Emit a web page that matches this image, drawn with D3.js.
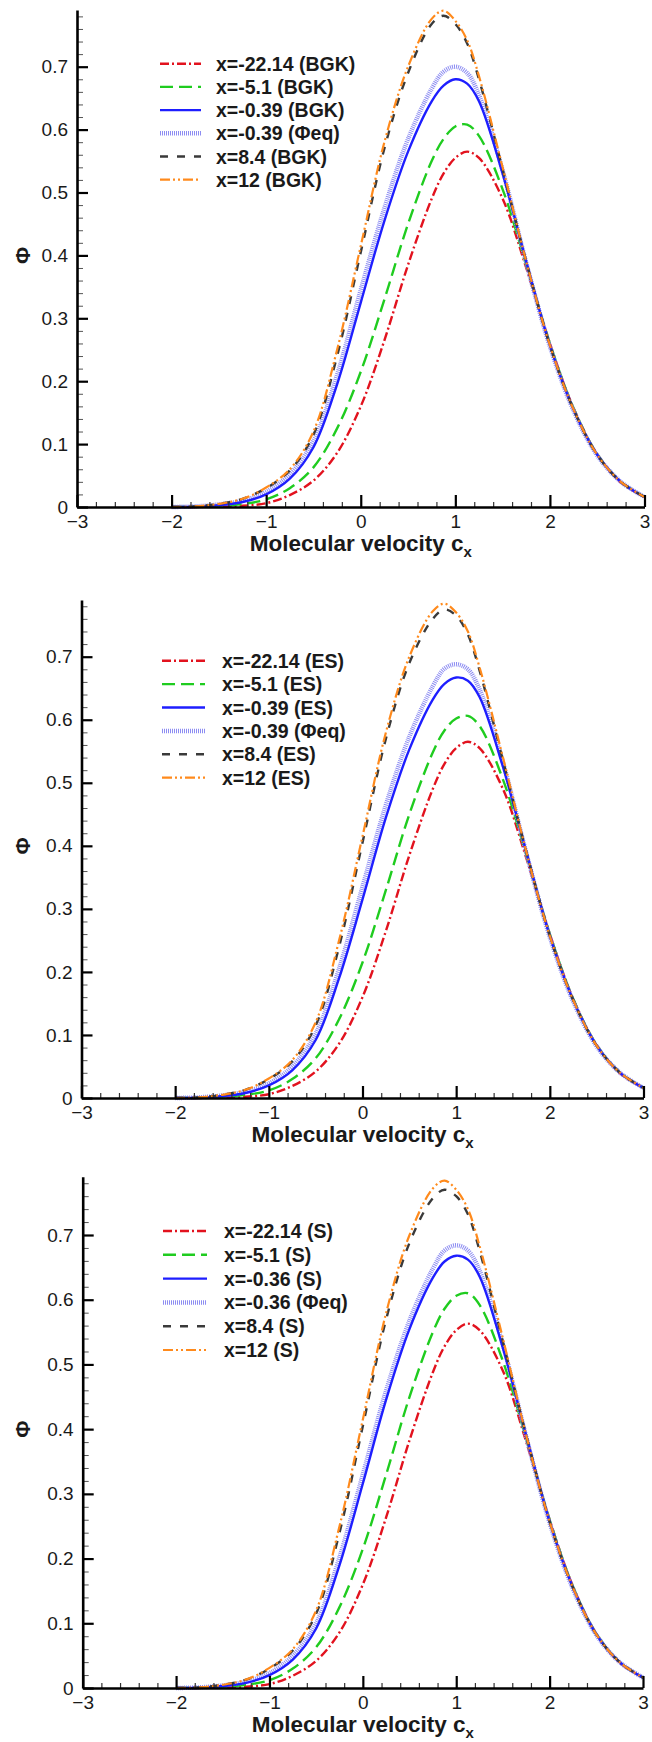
<!DOCTYPE html>
<html>
<head>
<meta charset="utf-8">
<script src="https://cdn.jsdelivr.net/npm/d3@7"></script>
<style>
  body { margin: 0; background: #fff; }
  svg { display: block; }
  text { font-family: "Liberation Sans", Arial, sans-serif; fill: #1a1a1a; }
</style>
</head>
<body>
<svg id="chart" width="652" height="1742"></svg>
<script>
// molecular velocity grid shared by every curve
const cx = [-3, -2.5, -2, -1.75, -1.5, -1.25, -1, -0.75, -0.5, -0.25, 0, 0.25, 0.5, 0.75, 0.875, 1, 1.125, 1.25, 1.5, 1.75, 2, 2.25, 2.5, 2.75, 3];

// panel 1 : BGK
const red1    = [0,0,0,0.0001,0.0004,0.002,0.006,0.019,0.042,0.086,0.16,0.265,0.385,0.49,0.53,0.555,0.565,0.555,0.49,0.38,0.26,0.157,0.084,0.039,0.016];
const green1  = [0,0,0,0.001,0.002,0.005,0.012,0.03,0.063,0.125,0.215,0.33,0.45,0.55,0.585,0.605,0.608,0.59,0.505,0.385,0.26,0.157,0.084,0.04,0.016];
const blue1   = [0,0,0,0.0005,0.003,0.008,0.02,0.045,0.095,0.195,0.325,0.455,0.565,0.645,0.67,0.68,0.673,0.645,0.53,0.39,0.257,0.155,0.083,0.04,0.016];
const eq1     = [0,0,0,0.001,0.004,0.01,0.024,0.052,0.105,0.21,0.345,0.475,0.585,0.665,0.692,0.70,0.69,0.655,0.535,0.388,0.255,0.153,0.082,0.04,0.016];
const black1  = [0,0,0,0.001,0.005,0.013,0.03,0.058,0.115,0.24,0.405,0.57,0.69,0.768,0.781,0.768,0.737,0.68,0.537,0.39,0.257,0.155,0.083,0.04,0.016];
const orange1 = [0,0,0,0.001,0.005,0.013,0.031,0.06,0.12,0.25,0.415,0.58,0.70,0.776,0.789,0.773,0.742,0.685,0.54,0.39,0.257,0.155,0.083,0.04,0.016];

// panel 2 : ES
const red2    = [0,0,0,0.0001,0.0004,0.002,0.006,0.019,0.042,0.086,0.16,0.265,0.385,0.49,0.53,0.555,0.565,0.555,0.49,0.38,0.26,0.157,0.084,0.039,0.016];
const green2  = [0,0,0,0.001,0.002,0.005,0.012,0.03,0.063,0.125,0.215,0.33,0.45,0.548,0.583,0.602,0.606,0.59,0.505,0.385,0.26,0.157,0.084,0.04,0.016];
const blue2   = [0,0,0,0.0005,0.003,0.008,0.02,0.044,0.092,0.19,0.315,0.445,0.553,0.632,0.657,0.667,0.662,0.636,0.525,0.39,0.257,0.155,0.083,0.04,0.016];
const eq2     = [0,0,0,0.001,0.004,0.01,0.023,0.05,0.102,0.205,0.335,0.465,0.573,0.653,0.681,0.688,0.68,0.648,0.532,0.388,0.255,0.153,0.082,0.04,0.016];
const black2  = [0,0,0,0.001,0.005,0.013,0.03,0.058,0.115,0.24,0.405,0.57,0.69,0.76,0.775,0.765,0.735,0.678,0.535,0.39,0.257,0.155,0.083,0.04,0.016];
const orange2 = [0,0,0,0.001,0.005,0.013,0.031,0.06,0.12,0.25,0.415,0.58,0.70,0.772,0.784,0.77,0.74,0.683,0.54,0.39,0.257,0.155,0.083,0.04,0.016];

// panel 3 : Shakhov
const red3    = [0,0,0,0.0001,0.0004,0.002,0.006,0.019,0.042,0.086,0.16,0.264,0.383,0.488,0.528,0.553,0.563,0.553,0.49,0.38,0.26,0.157,0.084,0.039,0.016];
const green3  = [0,0,0,0.001,0.002,0.005,0.012,0.03,0.063,0.125,0.215,0.33,0.45,0.55,0.586,0.606,0.61,0.592,0.505,0.385,0.26,0.157,0.084,0.04,0.016];
const blue3   = [0,0,0,0.0005,0.003,0.008,0.02,0.044,0.092,0.19,0.316,0.446,0.555,0.634,0.659,0.668,0.662,0.636,0.525,0.39,0.257,0.155,0.083,0.04,0.016];
const eq3     = [0,0,0,0.001,0.004,0.01,0.023,0.05,0.1,0.202,0.33,0.46,0.568,0.648,0.676,0.684,0.676,0.645,0.53,0.388,0.255,0.153,0.082,0.04,0.016];
const black3  = [0,0,0,0.001,0.005,0.013,0.03,0.058,0.115,0.24,0.405,0.57,0.688,0.757,0.77,0.76,0.732,0.676,0.535,0.39,0.257,0.155,0.083,0.04,0.016];
const orange3 = [0,0,0,0.001,0.005,0.013,0.031,0.06,0.12,0.25,0.415,0.58,0.70,0.772,0.784,0.77,0.74,0.683,0.54,0.39,0.257,0.155,0.083,0.04,0.016];

const labels1 = ["x=-22.14 (BGK)", "x=-5.1 (BGK)", "x=-0.39 (BGK)", "x=-0.39 (\u03A6eq)", "x=8.4 (BGK)", "x=12 (BGK)"];
const labels2 = ["x=-22.14 (ES)", "x=-5.1 (ES)", "x=-0.39 (ES)", "x=-0.39 (\u03A6eq)", "x=8.4 (ES)", "x=12 (ES)"];
const labels3 = ["x=-22.14 (S)", "x=-5.1 (S)", "x=-0.36 (S)", "x=-0.36 (\u03A6eq)", "x=8.4 (S)", "x=12 (S)"];

const xTicks = [-3, -2, -1, 0, 1, 2, 3];
const yTicks = [0, 0.1, 0.2, 0.3, 0.4, 0.5, 0.6, 0.7];

// line styles in legend order
const styles = [
    { color: "#e2121e", dash: "9,3,2,3", width: 2.4 },
    { color: "#1fcc1f", dash: "13,6", width: 2.4 },
    { color: "#1e1eff", dash: null, width: 2.4 },
    { color: "#8d8df2", dash: "1,1", width: 4.5 },
    { color: "#3a3a3a", dash: "8,9", width: 2.4 },
    { color: "#ff8a1c", dash: "10,3,2,3,2,3", width: 2.2 }
];
// draw order (Phi_eq under the solid blue, orange on top)
const drawOrder = [0, 1, 3, 2, 4, 5];

const panels = [
    { series: [red1, green1, blue1, eq1, black1, orange1], labels: labels1,
      left: 77, right: 644.5, y0: 507, y07: 66.7, legTop: 63.7, legStep: 23.2, sx1: 160, sx2: 201, tx: 216 },
    { series: [red2, green2, blue2, eq2, black2, orange2], labels: labels2,
      left: 81.5, right: 643.5, y0: 1098, y07: 656.7, legTop: 660.7, legStep: 23.4, sx1: 162, sx2: 205, tx: 222 },
    { series: [red3, green3, blue3, eq3, black3, orange3], labels: labels3,
      left: 82.7, right: 643, y0: 1688, y07: 1235, legTop: 1231, legStep: 23.8, sx1: 163, sx2: 207, tx: 224 }
];

const svg = d3.select("#chart");

panels.forEach(function (p) {
    var x = d3.scaleLinear().domain([-3, 3]).range([p.left, p.right]);
    // position of 0.79 (top of the axis) from the 0 and 0.7 tick positions
    var yTop = p.y0 - (p.y0 - p.y07) * 0.79 / 0.7;
    var y = d3.scaleLinear().domain([0, 0.79]).range([p.y0, yTop]);

    var g = svg.append("g");

    var line = d3.line()
        .defined(function (d, i) { return cx[i] >= -2; })
        .x(function (d, i) { return x(cx[i]); })
        .y(function (d) { return y(Math.max(0, d)); })
        .curve(d3.curveCatmullRom.alpha(0.5));

    // curves
    drawOrder.forEach(function (k) {
        g.append("path")
            .datum(p.series[k])
            .attr("fill", "none")
            .attr("stroke", styles[k].color)
            .attr("stroke-width", styles[k].width)
            .attr("stroke-dasharray", styles[k].dash)
            .attr("d", line);
    });

    // minor ticks
    var yMinor = d3.range(0, 0.7901, 0.02).filter(function (v) { return Math.abs(v * 10 - Math.round(v * 10)) > 1e-6; });
    var xMinor = d3.range(-3, 3.0001, 0.2).filter(function (v) { return Math.abs(v - Math.round(v)) > 1e-6; });

    g.append("g")
        .attr("transform", "translate(" + p.left + ",0)")
        .call(d3.axisLeft(y).tickValues(yMinor).tickSize(-6).tickSizeOuter(0).tickFormat(""))
        .call(function (a) { a.select(".domain").remove(); a.selectAll("line").attr("stroke", "#555").attr("stroke-width", 1); });
    g.append("g")
        .attr("transform", "translate(0," + p.y0 + ")")
        .call(d3.axisBottom(x).tickValues(xMinor).tickSize(-5).tickSizeOuter(0).tickFormat(""))
        .call(function (a) { a.select(".domain").remove(); a.selectAll("line").attr("stroke", "#333").attr("stroke-width", 1.2); });

    // major axes
    var yAxis = g.append("g")
        .attr("transform", "translate(" + p.left + ",0)")
        .call(d3.axisLeft(y).tickValues(yTicks).tickSize(-11).tickSizeOuter(0).tickPadding(9)
            .tickFormat(function (d) { return d === 0 ? "0" : d3.format(".1f")(d); }));
    var xAxis = g.append("g")
        .attr("transform", "translate(0," + p.y0 + ")")
        .call(d3.axisBottom(x).tickValues(xTicks).tickSize(-12).tickSizeOuter(0).tickPadding(8)
            .tickFormat(d3.format("d")));

    [yAxis, xAxis].forEach(function (a) {
        a.select(".domain").attr("stroke", "#000").attr("stroke-width", 2.6);
        a.selectAll(".tick line").attr("stroke", "#000").attr("stroke-width", 2.2);
        a.selectAll(".tick text").attr("font-size", 19).attr("fill", "#1a1a1a")
            .attr("font-family", '"Liberation Sans", Arial, sans-serif');
    });

    // axis titles
    g.append("text")
        .attr("transform", "translate(" + 30 + "," + y(0.4) + ") rotate(-90)")
        .attr("text-anchor", "middle")
        .attr("font-size", 21)
        .attr("font-weight", "bold")
        .text("\u03A6");

    var xt = g.append("text")
        .attr("x", (p.left + p.right) / 2)
        .attr("y", p.y0 + 44)
        .attr("text-anchor", "middle")
        .attr("font-size", 22.5)
        .attr("font-weight", "bold");
    xt.append("tspan").text("Molecular velocity c");
    xt.append("tspan").attr("font-size", 15).attr("dy", 6).text("x");

    // legend
    p.labels.forEach(function (lab, k) {
        var ry = p.legTop + k * p.legStep;
        g.append("line")
            .attr("x1", p.sx1).attr("x2", p.sx2)
            .attr("y1", ry).attr("y2", ry)
            .attr("stroke", styles[k].color)
            .attr("stroke-width", styles[k].width)
            .attr("stroke-dasharray", styles[k].dash);
        g.append("text")
            .attr("x", p.tx).attr("y", ry)
            .attr("dy", "0.36em")
            .attr("font-size", 19.5)
            .attr("font-weight", "bold")
            .text(lab);
    });
});
</script>
</body>
</html>
